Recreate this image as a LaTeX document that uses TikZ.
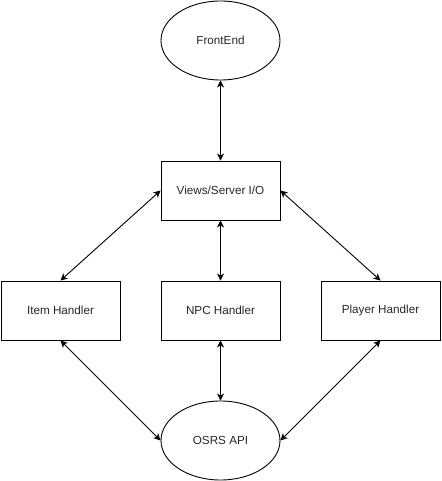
\documentclass[tikz,border=0pt]{standalone}
\usepackage{fontspec}
\setmainfont{Liberation Sans}
\usetikzlibrary{shapes.geometric,arrows.meta}
\begin{document}
\begin{tikzpicture}[x=1pt,y=-1pt,
  boxn/.style={draw,line width=0.9pt,minimum width=119pt,minimum height=59pt,inner sep=0pt,font=\fontsize{11.7}{14}\selectfont,text=black!85},
  elln/.style={ellipse,draw,line width=0.9pt,minimum width=119pt,minimum height=79pt,inner sep=0pt,font=\fontsize{11.7}{14}\selectfont,text=black!85},
  link/.style={line width=0.9pt,{Stealth[length=7pt,width=7pt,inset=2pt]}-{Stealth[length=7pt,width=7pt,inset=2pt]}}]
\useasboundingbox (0,0) rectangle (441,481);
\node[elln] (fe) at (220.5,40.5) {FrontEnd};
\node[boxn] (views) at (220.5,190.5) {Views/Server I/O};
\node[boxn] (item) at (60.5,310.5) {Item Handler};
\node[boxn] (npc) at (220.5,310.5) {NPC Handler};
\node[boxn] (player) at (380.5,310.5) {Player Handler};
\node[elln] (api) at (220.5,440.5) {OSRS API};
\draw[link] (fe.south) -- (views.north);
\draw[link] (views.west) -- (item.north);
\draw[link] (views.south) -- (npc.north);
\draw[link] (views.east) -- (player.north);
\draw[link] (item.south) -- (api.west);
\draw[link] (npc.south) -- (api.north);
\draw[link] (player.south) -- (api.east);
\end{tikzpicture}
\end{document}
